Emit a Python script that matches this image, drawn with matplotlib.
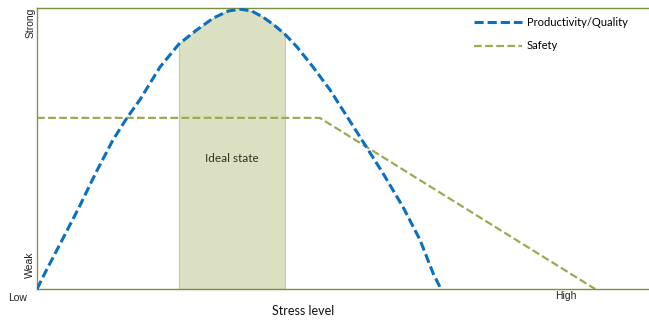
"""Stress level vs productivity/quality and safety."""
import matplotlib
matplotlib.use("Agg")
import matplotlib.pyplot as plt

# productivity / quality curve (stress 0-10, strength 0-10)
prod_x = [0.00, 0.13, 0.41, 0.69, 0.96, 1.24, 1.47, 1.68, 2.01, 2.32, 2.61, 2.88,
          3.12, 3.32, 3.51, 3.69, 3.87, 4.05, 4.25, 4.51, 4.79, 5.05, 5.31, 5.65,
          5.98, 6.26, 6.47, 6.60]
prod_y = [0.00, 0.57, 1.74, 2.92, 4.13, 5.30, 6.09, 6.73, 7.90, 8.72, 9.22, 9.64,
          9.89, 9.96, 9.89, 9.68, 9.40, 9.07, 8.61, 7.90, 7.08, 6.19, 5.30, 4.13,
          2.92, 1.74, 0.57, 0.00]

safety_x = [0.00, 4.62, 9.12]
safety_y = [6.09, 6.09, 0.00]

ideal_lo, ideal_hi = 2.32, 4.05

BLUE = "#0a70c0"
OLIVE = "#9bab55"
DARK_OLIVE = "#76923c"

fig = plt.figure(figsize=(6.49, 3.2), dpi=100)
ax = fig.add_axes([37 / 649, 31 / 320, 612 / 649, 281 / 320])

ix = [x for x in prod_x if ideal_lo <= x <= ideal_hi]
iy = [y for x, y in zip(prod_x, prod_y) if ideal_lo <= x <= ideal_hi]
ax.fill_between(ix, 0, iy, facecolor="#dbe0c2", edgecolor="#c3cc9a", linewidth=0.8, zorder=1)

ax.plot(prod_x, prod_y, color=BLUE, lw=2.2, dashes=(3, 1.3), zorder=3,
        label="Productivity/Quality")
ax.plot(safety_x, safety_y, color=OLIVE, lw=1.6, dashes=(3.5, 1.5), zorder=2,
        label="Safety")

ax.set_xlim(0, 10)
ax.set_ylim(0, 10)
ax.set_xticks([])
ax.set_yticks([])
ax.spines["right"].set_visible(False)
ax.spines["top"].set_color(DARK_OLIVE)
ax.spines["bottom"].set_color(DARK_OLIVE)
ax.spines["left"].set_color("#8b8c6a")
for s in ("top", "bottom", "left"):
    ax.spines[s].set_linewidth(1.0)

lab = dict(family="Liberation Sans", fontsize=7.5, color="#222222", clip_on=False)
ax.text(-0.31, -0.32, "Low", ha="center", va="center", **lab)
ax.text(8.64, -0.25, "High", ha="center", va="center", **lab)
ax.text(-0.11, 9.47, "Strong", ha="center", va="center", rotation=90, **lab)
ax.text(-0.11, 0.85, "Weak", ha="center", va="center", rotation=90, **lab)

ax.text(3.19, 4.63, "Ideal state", ha="center", va="center", family="Lato",
        fontsize=8.5, color="#333322", zorder=4)
fig.text(303 / 649, 9 / 320, "Stress level", ha="center", va="center",
         family="Lato", fontsize=9, color="#111111")

ax.legend(loc="upper left", bbox_to_anchor=(0.714, 0.968), frameon=False,
          prop={"family": "Lato", "size": 8}, handlelength=4.3,
          handletextpad=0.45, labelspacing=1.12, borderpad=0, borderaxespad=0)

fig.savefig("out.png", dpi=100, facecolor="white")
